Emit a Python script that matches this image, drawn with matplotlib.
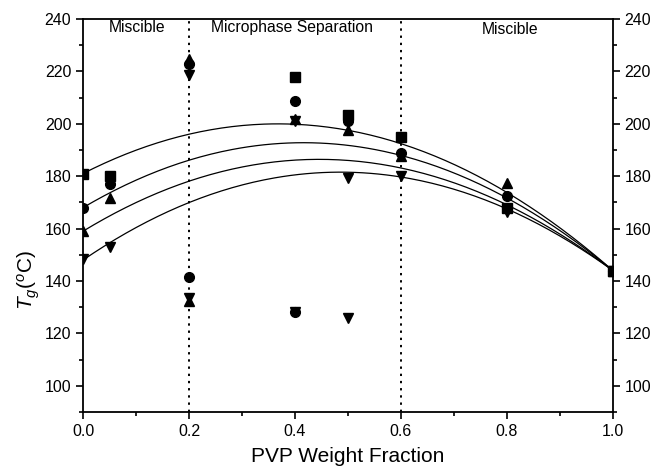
import numpy as np
import matplotlib
matplotlib.use("Agg")
import matplotlib.pyplot as plt
from matplotlib.ticker import MultipleLocator, FormatStrFormatter

plt.rcParams['font.family'] = ['Liberation Sans', 'DejaVu Sans']
plt.rcParams['mathtext.fontset'] = 'custom'
plt.rcParams['mathtext.rm'] = 'Liberation Sans'
plt.rcParams['mathtext.it'] = 'Liberation Sans:italic'

nan = np.nan
x = [0.0, 0.05, 0.2, 0.4, 0.5, 0.6, 0.8, 1.0]
square_hi = [181, 180, nan, 218, 203.5, 195, 168, 144]
square_lo = [nan, nan, nan, nan, nan, nan, nan, nan]
circle_hi = [168, 177, 222.8, 208.7, 201, 189, 172.3, 144]
circle_lo = [nan, nan, 141.7, 128, nan, nan, nan, nan]
up_hi = [159, 171.7, 224.8, 201.7, 197.7, 187.5, 177.4, 144]
up_lo = [nan, nan, 132.5, nan, nan, nan, nan, nan]
down_hi = [148.3, 153, 218.5, 201, 179.3, 180, 166.5, 144]
down_lo = [nan, nan, 133.5, 128.3, 125.7, nan, nan, nan]

# Kwei fit parameters (k = 1): Tg(0), Tg(1), q for each curve
fit_tg0 = [181, 168, 159, 148]
fit_tg1 = [144, 144, 144, 144]
fit_q = [140, 143, 138, 142]

boundaries = [0.2, 0.6]
region_labels = ["Miscible", "Microphase Separation", "Miscible"]
region_x = [0.102, 0.394, 0.806]
region_y = [236.8, 236.8, 235.8]

fig = plt.figure(figsize=(6.54, 4.72), dpi=100)
ax = fig.add_axes([0.127, 0.127, 0.81, 0.833])

w = np.linspace(0, 1, 200)
for t0, t1, q in zip(fit_tg0, fit_tg1, fit_q):
    tg = (1 - w) * t0 + w * t1 + q * w * (1 - w)
    ax.plot(w, tg, color='black', lw=0.9)

for b in boundaries:
    ax.axvline(b, color='black', ls=(0, (1.2, 2.5)), lw=1.4)

ms = 7
for hi, lo, m in [(square_hi, square_lo, 's'), (circle_hi, circle_lo, 'o'),
                  (up_hi, up_lo, '^'), (down_hi, down_lo, 'v')]:
    ax.plot(x, hi, ls='none', marker=m, color='black', ms=ms)
    ax.plot(x, lo, ls='none', marker=m, color='black', ms=ms)

for lab, xp, yp in zip(region_labels, region_x, region_y):
    ax.text(xp, yp, lab, ha='center', va='center', fontsize=11.3)

ax.set_xlim(0, 1)
ax.set_ylim(90, 240)
ax.xaxis.set_major_locator(MultipleLocator(0.2))
ax.xaxis.set_minor_locator(MultipleLocator(0.1))
ax.yaxis.set_minor_locator(MultipleLocator(10))
ax.set_yticks([100, 120, 140, 160, 180, 200, 220, 240])
ax.tick_params(which='both', direction='out', top=False, right=True,
               labelright=True, labelsize=11.5, width=1.2)
ax.tick_params(which='major', length=5)
ax.tick_params(which='minor', length=3)
ax.xaxis.set_major_formatter(FormatStrFormatter('%.1f'))
for s in ax.spines.values():
    s.set_linewidth(1.3)

ax.set_xlabel("PVP Weight Fraction", fontsize=15, labelpad=6)
ax.set_ylabel(r"$T_g$($^o$C)", fontsize=15)
ax.yaxis.set_label_coords(-0.078, 0.336)

fig.savefig("out.png", dpi=100)
